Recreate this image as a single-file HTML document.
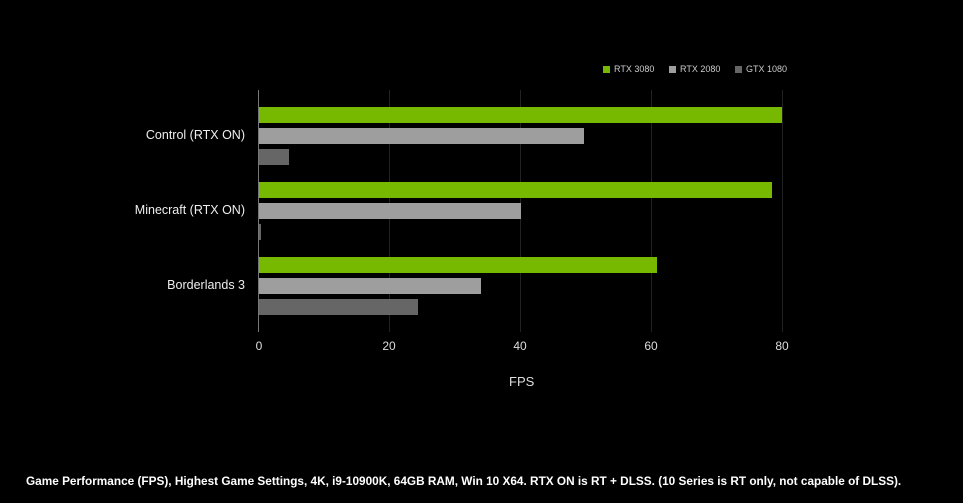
<!DOCTYPE html>
<html><head><style>
body{margin:0;background:#000;width:963px;height:503px;overflow:hidden;position:relative;font-family:"Liberation Sans",sans-serif;color:#fff}
.a{position:absolute}
.g{background:#76b900}.m{background:#9e9e9e}.d{background:#666}
.bar{position:absolute;left:259px;height:16px}
.grid{position:absolute;top:90px;height:242px;width:1px;background:#222}
.tick{position:absolute;top:339px;font-size:12px;color:#ddd;width:40px;text-align:center}
.lab{position:absolute;right:718px;font-size:12.5px;color:#eee;white-space:nowrap}
.leg{position:absolute;top:64px;font-size:9px;color:#ccc}
.leg i{display:inline-block;width:7px;height:7px;margin-right:4px;vertical-align:-1px}
</style></head><body>
<div class="leg" style="left:603px"><i class="g"></i>RTX 3080</div>
<div class="leg" style="left:669px"><i class="m"></i>RTX 2080</div>
<div class="leg" style="left:735px"><i class="d"></i>GTX 1080</div>
<div class="grid" style="left:389px"></div>
<div class="grid" style="left:520px"></div>
<div class="grid" style="left:651px"></div>
<div class="grid" style="left:782px"></div>
<div class="a" style="left:258px;top:90px;width:1px;height:242px;background:#777"></div>
<div class="bar g" style="top:107px;width:523px"></div>
<div class="bar m" style="top:128px;width:325px"></div>
<div class="bar d" style="top:149px;width:30px"></div>
<div class="bar g" style="top:182px;width:513px"></div>
<div class="bar m" style="top:203px;width:262px"></div>
<div class="bar d" style="top:224px;width:2px"></div>
<div class="bar g" style="top:257px;width:398px"></div>
<div class="bar m" style="top:278px;width:222px"></div>
<div class="bar d" style="top:299px;width:159px"></div>
<div class="lab" style="top:128px">Control (RTX ON)</div>
<div class="lab" style="top:203px">Minecraft (RTX ON)</div>
<div class="lab" style="top:278px">Borderlands 3</div>
<div class="tick" style="left:239px">0</div>
<div class="tick" style="left:369px">20</div>
<div class="tick" style="left:500px">40</div>
<div class="tick" style="left:631px">60</div>
<div class="tick" style="left:762px">80</div>
<div class="a" style="left:509px;top:374px;font-size:13px;color:#ddd">FPS</div>
<div class="a" style="left:26px;top:474px;font-size:11.8px;font-weight:bold;white-space:nowrap">Game Performance (FPS), Highest Game Settings, 4K, i9-10900K, 64GB RAM, Win 10 X64. RTX ON is RT + DLSS. (10 Series is RT only, not capable of DLSS).</div>
</body></html>
